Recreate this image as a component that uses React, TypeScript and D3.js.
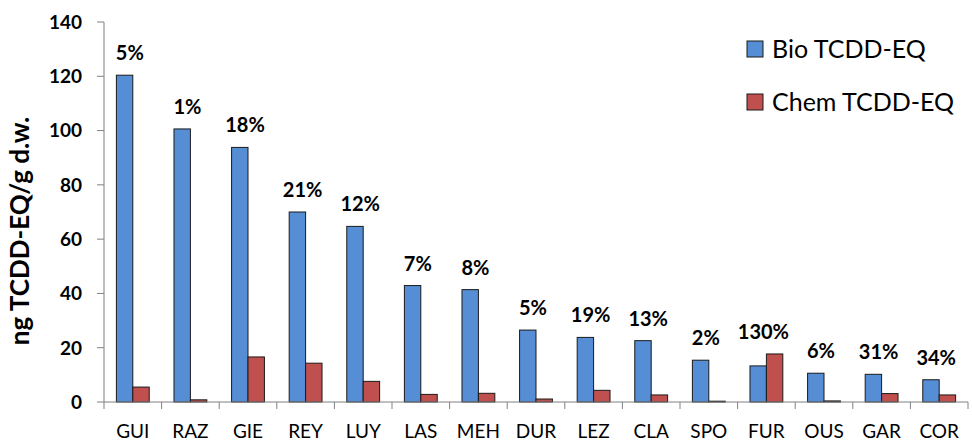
import React from 'react';
import * as d3 from 'd3';

const categories = ['GUI', 'RAZ', 'GIE', 'REY', 'LUY', 'LAS', 'MEH', 'DUR', 'LEZ', 'CLA', 'SPO', 'FUR', 'OUS', 'GAR', 'COR'];
const bioValues = [120.4, 100.6, 93.8, 70.0, 64.7, 42.9, 41.4, 26.5, 23.8, 22.6, 15.4, 13.3, 10.6, 10.2, 8.2];
const chemValues = [5.5, 0.8, 16.6, 14.3, 7.6, 2.8, 3.2, 1.1, 4.3, 2.6, 0.3, 17.7, 0.4, 3.1, 2.6];
const pctLabels = ['5%', '1%', '18%', '21%', '12%', '7%', '8%', '5%', '19%', '13%', '2%', '130%', '6%', '31%', '34%'];
const yTicks = [0, 20, 40, 60, 80, 100, 120, 140];
const seriesNames = ['Bio TCDD-EQ', 'Chem TCDD-EQ'];
const seriesColors = ['#558ED5', '#C0504D'];

const W = 972;
const H = 441;
const FONT = 'Lato, "Open Sans", sans-serif';

export default function App() {
  const x = d3.scaleBand<string>().domain(categories).range([104, 968]).paddingInner(0.43).paddingOuter(0.215);
  const xs = d3.scaleBand<string>().domain(seriesNames).range([0, x.bandwidth()]);
  const y = d3.scaleLinear().domain([0, 140]).range([402, 22]);
  const gap = (x.step() - x.bandwidth()) / 2;
  const bounds = categories.map((c) => (x(c) as number) - gap).concat([(x(categories[categories.length - 1]) as number) + x.bandwidth() + gap]);
  const axisColor = '#808080';

  return (
    <svg width={W} height={H} style={{ position: 'absolute', left: 0, top: 0, background: '#fff' }} fontFamily={FONT}>
      <rect x={0} y={0} width={W} height={H} fill="#fff" />
      {/* bars */}
      {categories.map((c, i) => {
        const vals = [bioValues[i], chemValues[i]];
        return (
          <g key={c} transform={`translate(${x(c)},0)`}>
            {seriesNames.map((s, j) => (
              <rect
                key={s}
                x={xs(s)}
                y={y(vals[j])}
                width={xs.bandwidth()}
                height={y(0) - y(vals[j])}
                fill={seriesColors[j]}
                stroke="#1a1a1a"
                strokeWidth={1}
              />
            ))}
          </g>
        );
      })}
      {/* axes */}
      <line x1={104} x2={104} y1={y(140)} y2={y(0)} stroke={axisColor} strokeWidth={1} />
      {yTicks.map((t) => (
        <g key={t}>
          <line x1={97} x2={104} y1={y(t)} y2={y(t)} stroke={axisColor} />
          <text x={82} y={y(t)} dy="0.36em" textAnchor="end" fontWeight="bold" fontSize={19} fill="#000">
            {t}
          </text>
        </g>
      ))}
      <line x1={104} x2={968} y1={y(0)} y2={y(0)} stroke={axisColor} strokeWidth={1} />
      {bounds.map((b, i) => (
        <line key={i} x1={b} x2={b} y1={y(0)} y2={y(0) + 7} stroke={axisColor} />
      ))}
      {categories.map((c) => (
        <text key={c} x={(x(c) as number) + x.bandwidth() / 2} y={438} textAnchor="middle" fontSize={19} fill="#000">
          {c}
        </text>
      ))}
      {/* percentage labels */}
      {categories.map((c, i) => (
        <text
          key={c}
          x={(x(c) as number) + x.bandwidth() / 2 - 3}
          y={y(Math.max(bioValues[i], chemValues[i])) - 15}
          textAnchor="middle"
          fontWeight="bold"
          fontSize={20}
          fill="#000"
        >
          {pctLabels[i]}
        </text>
      ))}
      {/* y title */}
      <text
        transform={`translate(${29},${231}) rotate(-90)`}
        textAnchor="middle"
        fontWeight="bold"
        fontSize={26}
        fill="#000"
      >
        ng TCDD-EQ/g d.w.
      </text>
      {/* legend */}
      {seriesNames.map((s, j) => (
        <g key={s} transform={`translate(747,${41 + j * 53})`}>
          <rect x={0} y={0} width={16} height={16} fill={seriesColors[j]} stroke="#1a1a1a" strokeWidth={1} />
          <text x={25} y={8} dy="0.36em" fontSize={25} fill="#000">
            {s}
          </text>
        </g>
      ))}
    </svg>
  );
}
